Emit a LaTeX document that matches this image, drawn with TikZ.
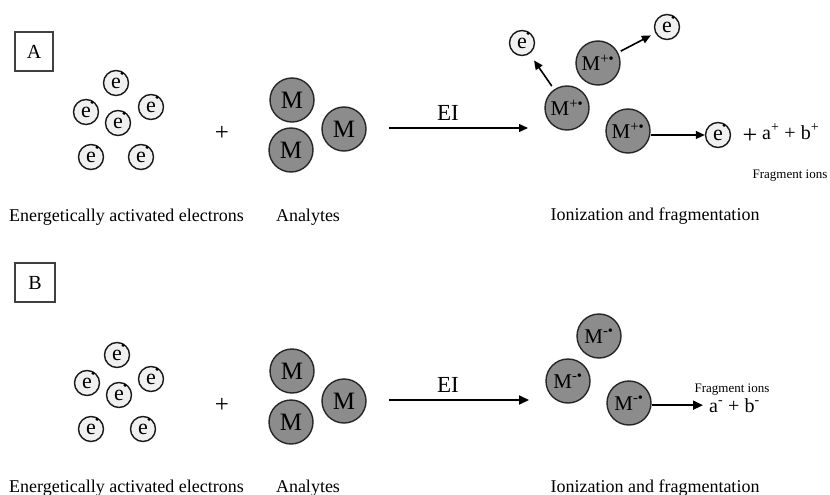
\documentclass[tikz,border=0pt]{standalone}
\usepackage{fontspec}
\setmainfont{Liberation Serif}
\usetikzlibrary{arrows.meta,calc}
\newcommand{\fsz}[1]{\fontsize{#1}{#1}\selectfont}
% an electron: light disc with an "e" and a small dot on its rim
\newcommand{\elecat}[2]{%
  \node[elec] (#1) at (#2) {e};
  \fill[black] ($(#1.center)+(58:11.5pt)$) circle (1.8pt);}
\tikzset{
  elec/.style={circle, draw=black!90, line width=1.4pt, fill=black!6,
    minimum size=25pt, inner sep=0pt, font=\fsz{22}},
  mol/.style={circle, draw=black!85, line width=1.4pt, fill=black!45,
    minimum size=44pt, inner sep=0pt, font=\fsz{25}},
  ion/.style={mol, font=\fsz{21}},
  lbl/.style={anchor=base, font=\fsz{18}, inner sep=0pt},
  tagbox/.style={draw=black!75, line width=1.3pt, inner sep=0pt,
    minimum width=38pt, minimum height=39pt, font=\fsz{20}},
  plus/.style={font=\fsz{25}, inner sep=0pt},
  arr/.style={-{Triangle[length=9pt,width=8pt]}, line width=1.2pt},
  arrB/.style={-{Triangle[length=10pt,width=9pt]}, line width=2pt},
}
\begin{document}
\begin{tikzpicture}[x=1pt,y=-1pt]
\useasboundingbox (0,0) rectangle (830,495);

% ---------------- panel A ----------------
\node[tagbox] (tagA) at (34,51.5) {A};

\elecat{a1}{116,83}
\elecat{a2}{86,112}
\elecat{a3}{151,107}
\elecat{a4}{118,123}
\elecat{a5}{91,157}
\elecat{a6}{141,157}

\node[plus] (plusA) at (222,133) {+};

\node[mol] (ma1) at (292,100) {M};
\node[mol] (ma2) at (344,129) {M};
\node[mol] (ma3) at (291,150) {M};

\coordinate (eiA0) at (389,128);
\coordinate (eiA1) at (528,128);
\draw[arr] (eiA0) -- (eiA1);
\node[anchor=base, font=\fsz{23}, inner sep=0pt] (eiA) at (448,120) {EI};

\node[ion] (ia1) at (598,63) {M\textsuperscript{+\textbullet}};
\node[ion] (ia2) at (567,108) {M\textsuperscript{+\textbullet}};
\node[ion] (ia3) at (628,131) {M\textsuperscript{+\textbullet}};

\elecat{ea1}{522,43}
\elecat{ea2}{667,27}
\elecat{ea3}{718,135}

\draw[arr, line width=1.6pt, shorten <=4pt, shorten >=8pt] (ia2) -- (ea1);
\draw[arr, line width=1.6pt, shorten <=3pt, shorten >=5pt] (ia1) -- (ea2);
\draw[arr] (ia3.east |- ea3.west) -- (ea3.west);

\node[plus, font=\fsz{26}] (plusA2) at (750,136) {+};
\node[anchor=base west, font=\fsz{20}, inner sep=0pt] (fragA)
  at (762,139) {a\textsuperscript{+} + b\textsuperscript{+}};
\node[anchor=base, font=\fsz{13}, inner sep=0pt] (fragAlbl) at (790,178) {Fragment ions};

\node[lbl] (la1) at (126.5,221) {Energetically activated electrons};
\node[lbl] (la2) at (308,221) {Analytes};
\node[lbl] (la3) at (655,220) {Ionization and fragmentation};

% ---------------- panel B ----------------
\node[tagbox, minimum width=40pt] (tagB) at (35,282.5) {B};

\elecat{b1}{117,355}
\elecat{b2}{87,383}
\elecat{b3}{151,379}
\elecat{b4}{119,395}
\elecat{b5}{91,429}
\elecat{b6}{143,429}

\node[plus] (plusB) at (222,405) {+};

\node[mol] (mb1) at (292,371) {M};
\node[mol] (mb2) at (344,401) {M};
\node[mol] (mb3) at (291,422) {M};

\coordinate (eiB0) at (389,400);
\coordinate (eiB1) at (529,400);
\draw[arrB] (eiB0) -- (eiB1);
\node[anchor=base, font=\fsz{23}, inner sep=0pt] (eiB) at (448,392) {EI};

\node[ion] (ib1) at (599,336) {M\textsuperscript{-\textbullet}};
\node[ion] (ib2) at (568,381) {M\textsuperscript{-\textbullet}};
\node[ion] (ib3) at (629,403) {M\textsuperscript{-\textbullet}};

\node[anchor=base west, font=\fsz{20}, inner sep=0pt] (fragB)
  at (709,412) {a\textsuperscript{-} + b\textsuperscript{-}};
\node[anchor=base, font=\fsz{13}, inner sep=0pt] (fragBlbl) at (732,392) {Fragment ions};
\draw[arrB, line width=1.8pt] (ib3.east |- fragB.west) -- ($(fragB.west)+(-6,0)$);

\node[lbl] (lb1) at (126.5,492) {Energetically activated electrons};
\node[lbl] (lb2) at (308,492) {Analytes};
\node[lbl] (lb3) at (655,492) {Ionization and fragmentation};
\end{tikzpicture}
\end{document}
